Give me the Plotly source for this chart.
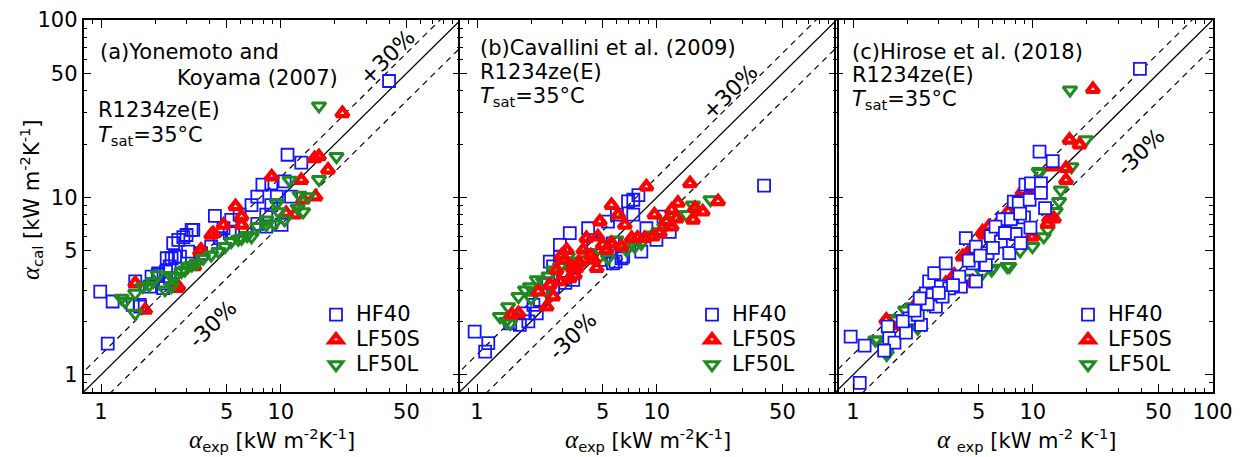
import numpy as np
import plotly.graph_objects as go

# ---------------- data: measured vs. calculated HTC [kW m-2 K-1] ----------------
# (a) Yonemoto and Koyama (2007)
a_hf40_exp = [0.99, 1.16, 1.09, 1.55, 1.64, 1.50, 1.91, 2.07, 2.30, 2.52, 2.69, 2.87, 3.26, 3.05,
              2.75, 2.47, 2.41, 4.30, 4.58, 5.20, 5.90, 5.30, 6.87, 7.40, 7.90, 8.85, 9.50, 10.5,
              11.4, 10.9, 13.0, 7.40, 8.30, 10.1, 8.30, 8.85, 40.0, 4.80, 4.10, 3.60, 2.27, 1.87,
              2.99, 3.19, 1.65, 2.22, 2.08, 2.42, 2.32, 2.58, 5.43]
a_hf40_cal = [2.94, 2.59, 1.50, 3.36, 2.48, 2.48, 3.58, 3.66, 3.82, 5.52, 5.76, 5.97, 6.56, 4.95,
              4.64, 4.54, 4.08, 7.87, 5.89, 6.29, 8.00, 7.47, 9.05, 10.1, 11.8, 12.0, 10.1, 12.3,
              10.1, 17.4, 15.7, 7.10, 6.85, 7.00, 8.00, 9.05, 45.3, 6.70, 5.28, 4.85, 3.28, 3.14,
              6.14, 6.56, 2.42, 3.08, 3.73, 3.50, 4.54, 4.64, 6.41]
a_lf50s_exp = [15.4, 16.3, 18.3, 13.0, 15.6, 13.3, 10.7, 11.95, 5.6, 6.05, 4.8, 4.1, 3.6, 2.69,
               1.55, 1.76, 22.0, 8.9, 3.3, 4.2, 6.05, 2.63, 3.55]
a_lf50s_cal = [16.6, 17.0, 14.3, 12.5, 10.1, 9.7, 8.15, 8.0, 8.9, 7.8, 7.0, 6.14, 5.06, 3.14,
               3.28, 2.32, 29.8, 13.1, 4.08, 6.27, 7.0, 3.08, 4.95]
a_lf50l_exp = [16.3, 20.4, 16.3, 11.2, 12.7, 14.1, 12.4, 13.3, 9.5, 9.7, 9.2, 8.3, 7.4, 6.87, 6.05,
               5.3, 4.9, 4.5, 4.1, 3.7, 3.4, 3.05, 2.8, 2.58, 2.93, 2.27, 2.07, 1.95, 1.71, 1.55,
               1.36, 1.55, 2.47, 10.5, 8.3, 5.8, 6.5, 3.2, 2.45, 1.85, 1.30]
a_lf50l_cal = [32.8, 17.0, 12.6, 12.5, 10.3, 10.1, 8.7, 8.3, 9.3, 8.3, 7.1, 7.0, 6.85, 6.0, 5.89,
               5.64, 5.28, 4.95, 4.74, 4.54, 4.25, 4.08, 3.82, 3.58, 3.9, 3.01, 3.66, 3.36, 3.14,
               2.88, 2.59, 2.22, 3.14, 7.47, 7.47, 5.8, 6.1, 4.15, 3.6, 3.2, 2.7]

# (b) Cavallini et al. (2009)
b_hf40_exp = [0.97, 1.155, 1.11, 1.53, 1.73, 1.93, 2.06, 2.24, 2.49, 2.65, 2.89, 3.28, 2.89, 3.08,
              3.43, 3.1, 4.15, 4.43, 4.82, 5.7, 6.5, 6.92, 7.4, 7.9, 7.4, 8.2, 9.95, 11.8, 10.9,
              8.75, 6.0, 5.7, 5.35, 39.5, 2.65, 2.15, 1.81, 2.54, 5.9, 6.36]
b_hf40_cal = [1.75, 1.51, 1.35, 1.95, 1.91, 2.0, 2.48, 2.64, 3.28, 4.08, 4.64, 6.29, 5.4, 4.25,
              3.43, 3.3, 6.7, 5.52, 4.45, 4.25, 4.64, 9.5, 9.7, 10.3, 8.0, 4.95, 5.76, 6.4, 7.8,
              6.7, 8.0, 5.5, 7.3, 11.65, 3.14, 2.22, 2.22, 4.35, 4.35, 4.54]
b_lf50s_exp = [8.75, 15.3, 21.9, 5.6, 6.1, 6.64, 4.82, 4.06, 4.7, 5.6, 6.36, 7.24, 8.56, 9.5, 10.4,
               9.7, 11.3, 12.1, 12.9, 13.1, 12.1, 15.9, 16.3, 18.0, 3.15, 3.08, 2.77, 3.58, 3.9,
               4.43, 4.63, 3.28, 2.89, 2.54, 2.65, 2.44, 2.19, 1.70, 1.56, 3.5, 5.25, 2.95, 3.7,
               4.3, 5.0, 7.8, 3.4]
b_lf50s_cal = [11.5, 12.0, 9.5, 9.05, 8.0, 7.0, 7.3, 5.89, 6.0, 5.52, 5.28, 5.89, 5.89, 6.0, 6.29,
               8.0, 7.3, 6.85, 7.6, 9.3, 8.5, 7.47, 8.7, 8.3, 5.06, 4.45, 3.9, 3.99, 5.06,
               4.45, 3.99, 3.5, 3.36, 3.21, 2.76, 2.42, 2.94, 2.22, 2.18, 3.66, 5.06, 4.7, 4.3,
               4.7, 5.4, 5.9, 4.0]
b_lf50l_exp = [1.34, 1.53, 1.49, 1.70, 1.85, 1.97, 2.15, 2.33, 2.65, 2.89, 3.43, 3.9, 4.25, 4.82,
               5.35, 5.96, 6.78, 7.54, 8.2, 9.2, 10.2, 11.3, 12.6, 14.6, 15.9, 19.9, 3.2, 1.45,
               2.0, 2.4, 2.5, 7.0, 11.0]
b_lf50l_cal = [2.13, 1.95, 2.42, 2.76, 3.01, 3.14, 3.43, 3.36, 3.9, 4.08, 4.35, 4.45, 4.85, 4.64,
               4.54, 5.76, 5.06, 5.28, 5.52, 6.14, 6.4, 7.3, 7.8, 8.0, 9.05, 9.7, 4.64, 2.0,
               2.7, 3.0, 3.6, 5.3, 6.8]

# (c) Hirose et al. (2018)
c_hf40_exp = [0.97, 1.16, 1.09, 1.56, 1.59, 1.70, 1.49, 1.97, 2.06, 2.39, 2.49, 2.54, 2.65, 2.83,
              2.77, 2.89, 3.08, 3.28, 3.43, 3.15, 3.98, 4.24, 4.82, 4.63, 5.48, 4.82, 5.6, 5.84,
              6.64, 7.4, 6.8, 7.54, 8.03, 8.56, 8.93, 9.7, 7.84, 8.35, 9.6, 9.1, 9.77, 11.1, 11.1,
              11.7, 10.9, 12.9, 39.4, 2.29, 1.89, 3.9, 6.2, 2.2, 2.6, 3.0, 3.6, 4.4, 5.1, 7.0,
              6.0, 8.5, 2.35]
c_hf40_cal = [1.64, 1.46, 0.90, 1.87, 1.61, 1.52, 1.37, 1.73, 2.08, 1.91, 2.53, 2.88, 3.36, 3.74,
              2.82, 2.42, 3.14, 4.25, 3.07, 2.76, 3.14, 5.89, 5.28, 4.25, 4.17, 3.36, 4.85, 6.06,
              5.64, 4.85, 7.53, 7.53, 6.22, 5.52, 7.71, 6.75, 9.47, 9.3, 9.7, 11.8, 12.0, 12.0, 10.6,
              8.7, 18.1, 16.0, 53.0, 2.18, 2.0, 3.58, 6.85, 2.3, 2.5, 2.9, 3.2, 4.4, 4.7, 6.3,
              5.2, 8.1, 2.7]
c_lf50s_exp = [1.53, 3.66, 4.07, 4.34, 4.63, 5.25, 5.7, 8.75, 9.95, 12.3, 13.1, 15.3, 15.3, 16.0,
               18.2, 21.6, 12.9, 3.28, 5.4, 4.57, 4.76, 12.1, 9.8, 2.3, 2.8, 6.5, 7.3, 10.5, 1.8]
c_lf50s_cal = [2.04, 3.66, 4.64, 4.85, 3.36, 6.4, 6.85, 10.8, 6.0, 7.6, 7.6, 14.6, 12.5, 21.1,
               19.8, 40.7, 14.9, 3.28, 6.14, 4.85, 3.28, 7.1, 6.0, 2.6, 3.0, 7.3, 8.3, 11.0, 1.9]
c_lf50l_exp = [1.37, 1.53, 1.70, 2.14, 2.29, 5.25, 5.97, 7.4, 9.95, 12.1, 13.4, 14.0, 14.3, 10.8,
               16.1, 19.7, 16.4, 10.9, 1.54, 1.33, 1.95, 1.71, 7.2, 5.9, 2.6, 3.5, 4.3, 8.5, 11.5]
c_lf50l_cal = [1.57, 1.35, 2.04, 2.42, 1.83, 3.74, 3.99, 4.08, 5.28, 6.56, 8.33, 9.47, 11.0, 14.0,
               40.3, 21.1, 14.9, 13.8, 1.30, 1.57, 2.32, 2.08, 4.08, 3.9, 2.5, 3.2, 3.5, 5.0, 6.0]

# reference lines: perfect agreement and +/-30 % bands
ref_x = [0.5, 200.0]
band_factors = [1.3, 0.7]

x_tick_vals = [1, 5, 10, 50, 100]
y_tick_vals = [1, 5, 10, 50, 100]
minor_vals = [0.8, 0.9] + [k * d for d in (1, 10) for k in (2, 3, 4, 6, 7, 8, 9)]
series_names = ["HF40", "LF50S", "LF50L"]

# ---------------- figure geometry (pixels) ----------------
W, H = 1241, 457
PANEL_W = 377.0
LEFTS = [83.6, 459.6, 835.6]
TOP, BOTTOM = 20.0, 392.0
FONT = "DejaVu Sans"


def fx(p):
    return p / W


def fy(p):
    return 1 - p / H


BLUE, RED, GREEN = "#1414ff", "#ff0000", "#1f8a1f"

styles = {
    "HF40": dict(symbol="square-open", size=12, color=BLUE, line=dict(width=1.8, color=BLUE)),
    "LF50S": dict(symbol="triangle-up-open", size=11, color=RED, line=dict(width=4.2, color=RED)),
    "LF50L": dict(symbol="triangle-down-open", size=12, color=GREEN, line=dict(width=3.0, color=GREEN)),
}

panels = [
    dict(data={"HF40": (a_hf40_exp, a_hf40_cal), "LF50S": (a_lf50s_exp, a_lf50s_cal),
               "LF50L": (a_lf50l_exp, a_lf50l_cal)},
         order=["HF40", "LF50S", "LF50L"], legend="legend"),
    dict(data={"HF40": (b_hf40_exp, b_hf40_cal), "LF50S": (b_lf50s_exp, b_lf50s_cal),
               "LF50L": (b_lf50l_exp, b_lf50l_cal)},
         order=["HF40", "LF50L", "LF50S"], legend="legend2"),
    dict(data={"HF40": (c_hf40_exp, c_hf40_cal), "LF50S": (c_lf50s_exp, c_lf50s_cal),
               "LF50L": (c_lf50l_exp, c_lf50l_cal)},
         order=["LF50L", "LF50S", "HF40"], legend="legend3"),
]

fig = go.Figure()

for i, pan in enumerate(panels):
    sfx = "" if i == 0 else str(i + 1)
    xa, ya = "x" + sfx, "y" + sfx
    # 1:1 line and +/-30 % bands
    fig.add_trace(go.Scatter(x=ref_x, y=ref_x, mode="lines", xaxis=xa, yaxis=ya,
                             line=dict(color="black", width=1.3), showlegend=False,
                             hoverinfo="skip"))
    for f in band_factors:
        fig.add_trace(go.Scatter(x=ref_x, y=[v * f for v in ref_x], mode="lines", xaxis=xa,
                                 yaxis=ya, line=dict(color="black", width=1.2, dash="6px,5px"),
                                 showlegend=False, hoverinfo="skip"))
    for name in pan["order"]:
        xs, ys = pan["data"][name]
        st = dict(styles[name])
        if i == 2 and name == "HF40":
            st = dict(st, symbol="square", color="white")
        fig.add_trace(go.Scatter(x=xs, y=ys, mode="markers",
                                 name='<span style="font-size:21px">%s</span>' % name,
                                 xaxis=xa, yaxis=ya, marker=st, legend=pan["legend"],
                                 legendrank=series_names.index(name) + 1))

    left = LEFTS[i]
    xt = x_tick_vals if i == 2 else x_tick_vals[:-1]
    axis_common = dict(type="log", showline=True, linecolor="black", linewidth=1.6,
                       mirror="ticks", ticks="inside", ticklen=8, tickwidth=1.3,
                       tickcolor="black", showgrid=False, zeroline=False,
                       range=[np.log10(0.8), 2], automargin=False,
                       tickfont=dict(family=FONT, size=21, color="black"),
                       minor=dict(tickmode="array", tickvals=minor_vals, ticks="inside",
                                  ticklen=4, tickwidth=1.1, tickcolor="black", showgrid=False))
    fig.layout["xaxis" + sfx] = dict(axis_common, domain=[fx(left), fx(left + PANEL_W)],
                                     anchor=ya, tickmode="array", tickvals=xt,
                                     ticktext=[str(v) for v in xt])
    fig.layout["yaxis" + sfx] = dict(axis_common, domain=[fy(BOTTOM), fy(TOP)], anchor=xa,
                                     tickmode="array", tickvals=y_tick_vals,
                                     ticktext=[str(v) for v in y_tick_vals],
                                     showticklabels=(i == 0))

# per-panel legends
legend_pos = [(316, 297), (692, 297), (1068, 297)]
for i, (lx, ly) in enumerate(legend_pos):
    key = "legend" if i == 0 else "legend%d" % (i + 1)
    fig.layout[key] = dict(x=fx(lx), y=fy(ly), xanchor="left", yanchor="top",
                           bgcolor="rgba(0,0,0,0)", borderwidth=0,
                           font=dict(family=FONT, size=17, color="black"))

ALPHA = '<span style="font-family:Liberation Serif;font-size:25px"><i>α</i></span>'
ann = []


def text(s, x, y, xanchor="left", yanchor="middle", size=21, angle=0):
    ann.append(dict(text=s, x=fx(x), y=fy(y), xref="paper", yref="paper", showarrow=False,
                    xanchor=xanchor, yanchor=yanchor, textangle=angle,
                    font=dict(family=FONT, size=size, color="black")))


TSAT = "<i>T</i><sub>sat</sub>=35°C"
# panel (a)
text("(a)Yonemoto and", 98, 52)
text("Koyama (2007)", 340, 78, xanchor="right")
text("R1234ze(E)", 96, 110)
text(TSAT, 96, 136)
# panel (b)
text("(b)Cavallini et al. (2009)", 478, 48)
text("R1234ze(E)", 478, 72)
text(TSAT, 478, 97)
# panel (c)
text("(c)Hirose et al. (2018)", 850, 52)
text("R1234ze(E)", 850, 75)
text(TSAT, 850, 100)

# band labels
ANG = -44.6
text("+30%", 387, 58, xanchor="center", size=22, angle=ANG)
text("-30%", 212, 324, xanchor="center", size=22, angle=ANG)
text("+30%", 729, 92, xanchor="center", size=22, angle=ANG)
text("-30%", 572, 336, xanchor="center", size=22, angle=ANG)
text("-30%", 1140, 152, xanchor="center", size=22, angle=ANG)

# axis titles
xt_ab = ALPHA + "<sub>exp</sub> [kW m<sup>-2</sup>K<sup>-1</sup>]"
xt_c = ALPHA + " <sub>exp</sub> [kW m<sup>-2</sup> K<sup>-1</sup>]"
text(xt_ab, LEFTS[0] + PANEL_W / 2, 440, xanchor="center")
text(xt_ab, LEFTS[1] + PANEL_W / 2, 440, xanchor="center")
text(xt_c, LEFTS[2] + PANEL_W / 2 + 3, 440, xanchor="center")
text(ALPHA + "<sub>cal</sub> [kW m<sup>-2</sup>K<sup>-1</sup>]", 31, 200, xanchor="center",
     angle=-90)

fig.update_layout(width=W, height=H, margin=dict(l=0, r=0, t=0, b=0),
                  paper_bgcolor="white", plot_bgcolor="white", annotations=ann,
                  font=dict(family=FONT, size=20, color="black"))

fig.write_html("out.html")
